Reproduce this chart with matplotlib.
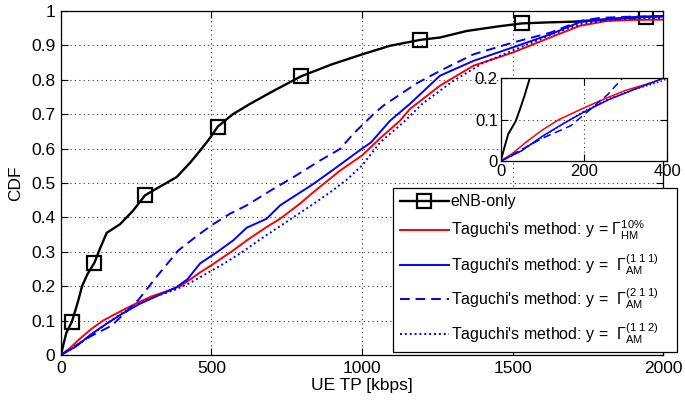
import numpy as np
import matplotlib
matplotlib.use("Agg")
import matplotlib.pyplot as plt

# CDF curves (x: UE throughput in kbps, y: CDF)
enb_x = [0, 8, 18, 36, 48, 58, 70, 88, 111, 130, 152, 196, 240, 279, 330, 384, 430,
         462, 490, 521, 571, 628, 700, 797, 900, 1004, 1093, 1193, 1259, 1348, 1450,
         1531, 1620, 1702, 1800, 1943, 2000]
enb_y = [0, .03, .065, .096, .13, .16, .2, .235, .268, .31, .355, .38, .42, .464, .49,
         .517, .56, .594, .625, .664, .70, .73, .765, .81, .845, .875, .899, .916, .923,
         .942, .955, .964, .967, .969, .975, .983, .985]
enb_marks = [3, 8, 13, 19, 23, 27, 31, 35]

hm_x = [0, 30, 60, 100, 140, 200, 250, 300, 350, 395, 430, 462, 500, 572, 617, 683,
        728, 794, 838, 927, 1000, 1060, 1126, 1159, 1259, 1370, 1500, 1625, 1724, 1813,
        1900, 2000]
hm_y = [0, .02, .045, .075, .1, .128, .15, .17, .185, .2, .22, .24, .261, .304, .333,
        .372, .396, .44, .473, .536, .58, .63, .681, .715, .783, .841, .879, .923, .957,
        .971, .974, .975]

am111_x = [0, 50, 100, 150, 200, 260, 320, 380, 420, 462, 520, 572, 617, 683, 728, 790,
           838, 916, 1000, 1030, 1093, 1159, 1259, 1370, 1500, 1625, 1724, 1813, 1900, 2000]
am111_y = [0, .025, .06, .09, .118, .148, .172, .195, .22, .266, .30, .333, .37, .396,
           .435, .47, .497, .546, .6, .618, .681, .73, .812, .855, .894, .932, .968, .976,
           .982, .985]

am211_x = [0, 50, 100, 168, 210, 257, 320, 390, 450, 500, 560, 617, 700, 772, 860, 927,
           971, 1038, 1071, 1182, 1259, 1370, 1500, 1625, 1724, 1790, 1900, 2000]
am211_y = [0, .028, .055, .085, .12, .16, .23, .304, .345, .377, .41, .435, .48, .517,
           .565, .599, .643, .70, .725, .79, .826, .874, .908, .937, .971, .98, .984, .985]

am112_x = [0, 50, 100, 150, 200, 260, 320, 380, 430, 480, 540, 600, 660, 720, 780, 840,
           894, 950, 1000, 1060, 1137, 1200, 1300, 1400, 1500, 1625, 1724, 1813, 1900, 2000]
am112_y = [0, .025, .058, .09, .12, .15, .172, .19, .21, .235, .265, .298, .335, .37,
           .405, .44, .473, .51, .551, .618, .676, .73, .795, .848, .885, .93, .962, .973,
           .978, .98]

labels = [
    "eNB-only",
    r"Taguchi's method: y = $\Gamma_{\rm HM}^{10\%}$",
    r"Taguchi's method: y =  $\Gamma_{\rm AM}^{(1\ 1\ 1)}$",
    r"Taguchi's method: y =  $\Gamma_{\rm AM}^{(2\ 1\ 1)}$",
    r"Taguchi's method: y =  $\Gamma_{\rm AM}^{(1\ 1\ 2)}$",
]

plt.rcParams["font.family"] = ["Liberation Sans", "DejaVu Sans"]
plt.rcParams["mathtext.fontset"] = "custom"
plt.rcParams["mathtext.rm"] = "Liberation Sans"
plt.rcParams["mathtext.it"] = "Liberation Sans:italic"
plt.rcParams["mathtext.bf"] = "Liberation Sans:bold"

grid_kw = dict(color="black", linestyle=(0, (1, 3)), linewidth=0.8, alpha=0.8)


def draw_curves(ax, lw):
    h = []
    h += ax.plot(enb_x, enb_y, color="black", lw=lw + 0.3, marker="s", markevery=enb_marks,
                 markersize=9.5, markerfacecolor="none", markeredgewidth=1.6)
    h += ax.plot(hm_x, hm_y, color="red", lw=lw)
    h += ax.plot(am111_x, am111_y, color="blue", lw=lw)
    h += ax.plot(am211_x, am211_y, color="blue", lw=lw, linestyle=(0, (5, 3)))
    h += ax.plot(am112_x, am112_y, color="blue", lw=lw, linestyle=(0, (1, 1.5)))
    return h


def style_axes(ax):
    ax.tick_params(direction="in", top=True, right=True, length=5, labelsize=12.5,
                   pad=4, color="black")
    for s in ax.spines.values():
        s.set_linewidth(0.9)


fig = plt.figure(figsize=(6.85, 4.08), dpi=100)
ax = fig.add_axes([0.089, 0.130, 0.879, 0.843])
handles = draw_curves(ax, 1.4)
ax.set_xlim(0, 2000)
ax.set_ylim(0, 1)
ax.set_xticks(np.arange(0, 2001, 500))
ax.set_yticks(np.arange(0, 1.01, 0.1))
ax.set_yticklabels(["0", "0.1", "0.2", "0.3", "0.4", "0.5", "0.6", "0.7", "0.8", "0.9", "1"])
ax.grid(True, **grid_kw)
style_axes(ax)
ax.set_xlabel("UE TP [kbps]", fontsize=12.5, labelpad=2)
ax.set_ylabel("CDF", fontsize=12.5, labelpad=6)

leg = ax.legend(handles, labels, loc="upper left", bbox_to_anchor=(0.574, 0.539, 0.414, 0.0),
                bbox_transform=fig.transFigure, mode="expand", fontsize=11.5,
                handlelength=3.1, handletextpad=0.1, labelspacing=0.6, borderpad=0.4,
                fancybox=False, framealpha=1, edgecolor="black", borderaxespad=0)
leg.get_frame().set_linewidth(0.9)
leg.set_zorder(10)

ins = fig.add_axes([0.731, 0.605, 0.243, 0.204])
draw_curves(ins, 1.1)
ins.lines[0].set_marker("None")
ins.set_xlim(0, 400)
ins.set_ylim(0, 0.2)
ins.set_xticks([0, 200, 400])
ins.set_yticks([0, 0.1, 0.2])
ins.set_yticklabels(["0", "0.1", "0.2"])
ins.grid(True, **grid_kw)
style_axes(ins)
ins.tick_params(labelsize=12, pad=2)

fig.savefig("out.png", dpi=100)
